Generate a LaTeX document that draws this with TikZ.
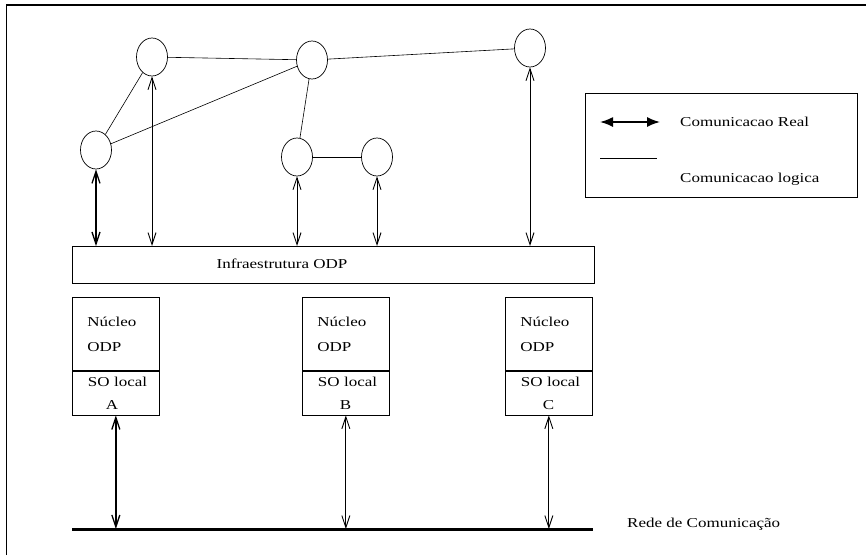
\documentclass[tikz,border=0pt]{standalone}
\usepackage{fontspec}
\setmainfont[FakeStretch=1.25]{Liberation Serif}
\usetikzlibrary{shapes.geometric,arrows.meta,calc}
\begin{document}
\begin{tikzpicture}[x=1pt,y=-1pt,
  txt/.style={font=\fontsize{13.6}{16}\selectfont, inner sep=0pt},
  proc/.style={draw,ellipse,minimum width=31pt,minimum height=38pt,inner sep=0pt,line width=0.7pt},
  logic/.style={line width=0.6pt},
  real/.style={line width=0.9pt,{Straight Barb[length=12pt,width=8pt]}-{Straight Barb[length=12pt,width=8pt]}},
  realthick/.style={real,line width=1.3pt},
  legreal/.style={line width=1.6pt,{Latex[length=13pt,width=10pt]}-{Latex[length=13pt,width=10pt]}},
  nucleo/.style={draw,line width=0.7pt,align=left,text width=57pt,inner xsep=15pt,inner ysep=0pt,
    minimum height=73pt,anchor=north west,font=\fontsize{13.6}{25}\selectfont},
  solocal/.style={draw,line width=0.7pt,align=left,text width=80pt,inner xsep=3.5pt,inner ysep=0pt,
    minimum height=44pt,anchor=north west,font=\fontsize{13.6}{23}\selectfont},
]
\useasboundingbox (0,0) rectangle (866,555);
% frame
\coordinate (fBL) at (6,555);
\coordinate (fTL) at (6,5);
\coordinate (fTR) at (866,5);
\draw[line width=0.6pt] (fBL) -- (fTL);
\draw[line width=1.5pt] (fTL) -- (fTR);

% processes
\node[proc] (c1) at (152,57) {};
\node[proc] (c2) at (312,60) {};
\node[proc] (c3) at (530,48) {};
\node[proc] (c4) at (96,150) {};
\node[proc] (c5) at (297,157) {};
\node[proc] (c6) at (377,157) {};

% logical communication
\draw[logic] (c1) -- (c2);
\draw[logic] (c2) -- (c3);
\draw[logic] (c1) -- (c4);
\draw[logic] (c2) -- (c4);
\draw[logic] (c2) -- (c5);
\draw[logic] (c5) -- (c6);

% infrastructure
\node[draw,line width=0.7pt,minimum width=522pt,minimum height=37pt,inner sep=0pt,anchor=north west] (infra) at (72,246) {};
\node[txt] (infratxt) at (282,264) {Infraestrutura ODP};

% real communication to infrastructure
\draw[realthick] (c4.south) -- (c4.south |- infra.north);
\draw[real] (c1.south) -- (c1.south |- infra.north);
\draw[real] (c5.south) -- (c5.south |- infra.north);
\draw[real] (c6.south) -- (c6.south |- infra.north);
\draw[real] (c3.south) -- (c3.south |- infra.north);

% nodes A, B, C
\node[nucleo] (Ak) at (72,297) {Núcleo\\ODP};
\node[solocal] (As) at (Ak.south west) {\hspace*{12pt}SO local\\\hspace*{30pt}A};
\node[nucleo] (Bk) at (302,297) {Núcleo\\ODP};
\node[solocal] (Bs) at (Bk.south west) {\hspace*{12pt}SO local\\\hspace*{34pt}B};
\node[nucleo] (Ck) at (505,297) {Núcleo\\ODP};
\node[solocal] (Cs) at (Ck.south west) {\hspace*{12pt}SO local\\\hspace*{34pt}C};

% network
\coordinate (netL) at (72,529);
\coordinate (netR) at (593,529);
\draw[line width=3pt] (netL) -- (netR);
\node[txt,anchor=west] (rede) at (627,524) {Rede de Comunicação};

\draw[realthick] (As.south) -- (As.south |- netL);
\draw[real] (Bs.south) -- (Bs.south |- netL);
\draw[real] (Cs.south) -- (Cs.south |- netL);

% legend
\node[draw,line width=0.8pt,minimum width=272pt,minimum height=104pt,inner sep=0pt,anchor=north west] (legend) at (585,93) {};
\coordinate (lgA1) at (600,122);
\coordinate (lgA2) at (660,122);
\draw[legreal] (lgA1) -- (lgA2);
\node[txt,anchor=west] (lgrealtxt) at (680,122) {Comunicacao Real};
\coordinate (lgL1) at (600,158);
\coordinate (lgL2) at (657,158);
\draw[logic] (lgL1) -- (lgL2);
\node[txt,anchor=west] (lglogtxt) at (680,179) {Comunicacao logica};
\end{tikzpicture}
\end{document}
